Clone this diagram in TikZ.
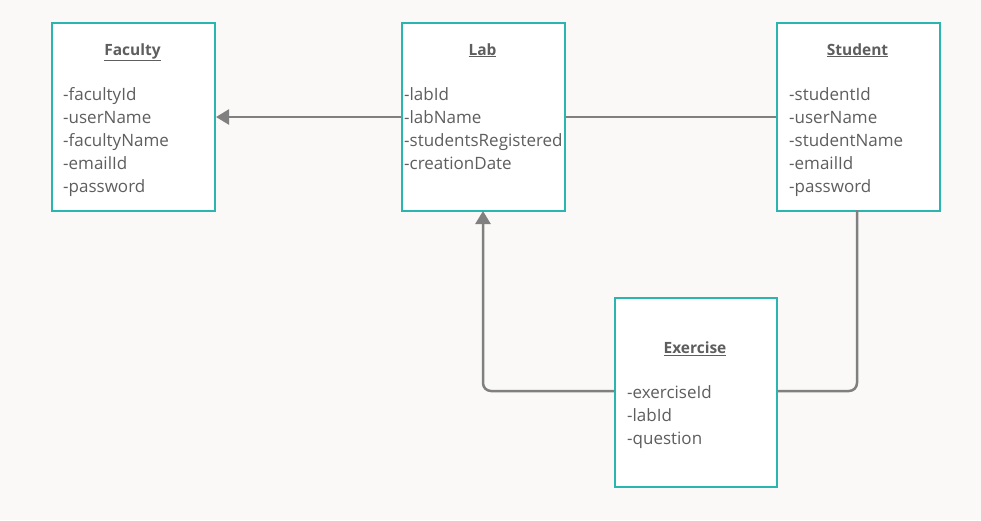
\documentclass[tikz,border=0pt]{standalone}
\usepackage{fontspec}
\setmainfont{Open Sans}
\usetikzlibrary{arrows.meta}
\definecolor{bgc}{HTML}{FAF9F7}
\definecolor{teal}{HTML}{2BB5B1}
\definecolor{txt}{HTML}{5E5E5E}
\definecolor{lnc}{HTML}{808080}
\tikzset{
  entity/.style={draw=teal, line width=2pt, fill=white, anchor=north west, inner sep=0pt, minimum width=163pt, minimum height=188pt},
  ttl/.style={anchor=base, inner sep=0pt, font=\fontsize{15.5}{18}\selectfont\bfseries, text=txt},
  attr/.style={anchor=base west, inner sep=0pt, font=\fontsize{17}{20}\selectfont, text=txt},
  conn/.style={draw=lnc, line width=2.5pt, rounded corners=8pt},
  arr/.style={conn, -{Triangle[length=13pt,width=15pt]}},
}
\newcommand{\ul}[1]{\underline{#1}}
\begin{document}
\begin{tikzpicture}[x=1pt,y=-1pt]
\useasboundingbox[fill=bgc] (0,0) rectangle (981,520);
% entities
\node[entity] (fac) at (51,22) {};
\node[entity] (lab) at (401,22) {};
\node[entity] (stu) at (776,22) {};
\node[entity, minimum width=162pt, minimum height=189pt] (exe) at (614,297) {};
% connectors
\draw[arr] (lab.west |- 0,117) coordinate (la) -- (fac.east |- la);
\draw[conn] (lab.east |- la) -- (stu.west |- la);
\coordinate (ea) at (614,391);
\draw[arr] (exe.west |- ea) -- (483,391) -- (483,211);
\draw[conn] (exe.east |- ea) -- (857,391) -- (857,210);
% Faculty
\node[ttl] (facT) at (132.5,55) {\ul{Faculty}};
\node[attr] (fa1) at (63,100.7) {-facultyId};
\node[attr] (fa2) at (63,123.6) {-userName};
\node[attr] (fa3) at (63,146.5) {-facultyName};
\node[attr] (fa4) at (63,169.4) {-emailId};
\node[attr] (fa5) at (63,192.3) {-password};
% Lab
\node[ttl] (labT) at (482.5,55) {\ul{Lab}};
\node[attr] (la1) at (404,100.7) {-labId};
\node[attr] (la2) at (404,123.6) {-labName};
\node[attr] (la3) at (404,146.5) {-studentsRegistered};
\node[attr] (la4) at (404,169.4) {-creationDate};
% Student
\node[ttl] (stuT) at (857.5,55) {\ul{Student}};
\node[attr] (st1) at (789,100.7) {-studentId};
\node[attr] (st2) at (789,123.6) {-userName};
\node[attr] (st3) at (789,146.5) {-studentName};
\node[attr] (st4) at (789,169.4) {-emailId};
\node[attr] (st5) at (789,192.3) {-password};
% Exercise
\node[ttl] (exeT) at (695,353.3) {\ul{Exercise}};
\node[attr] (ex1) at (627,398.3) {-exerciseId};
\node[attr] (ex2) at (627,421.2) {-labId};
\node[attr] (ex3) at (627,444.1) {-question};
\end{tikzpicture}
\end{document}
